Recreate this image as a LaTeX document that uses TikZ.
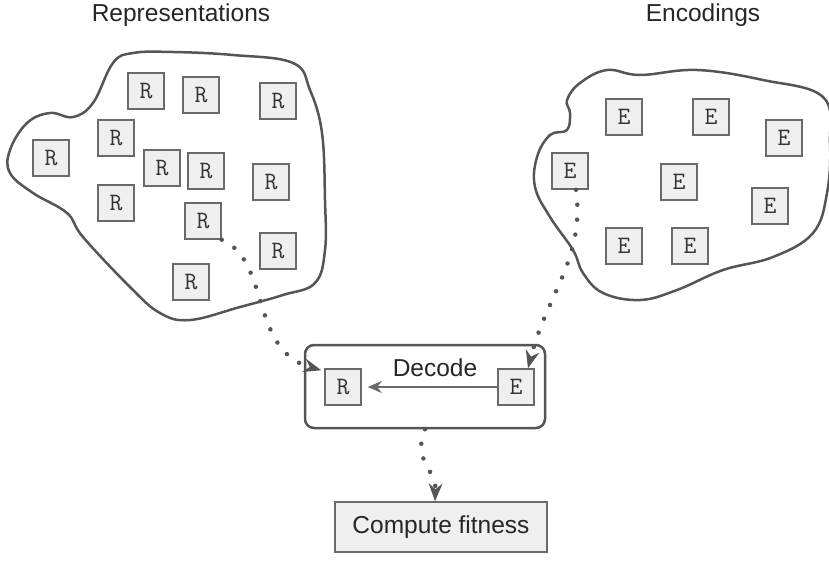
\documentclass[tikz,border=0pt]{standalone}
\usepackage{fontspec}
\setmainfont{Liberation Sans}
\usetikzlibrary{arrows.meta}
\definecolor{outl}{HTML}{555555}
\definecolor{boxfill}{HTML}{EFEFEF}
\definecolor{boxline}{HTML}{6A6A6A}
\tikzset{
  item/.style={draw=boxline, fill=boxfill, line width=1.5pt, minimum width=36pt, minimum height=36pt, inner sep=0pt, font=\ttfamily\fontsize{25}{28}\selectfont, text=black!80},
  blob/.style={draw=outl, line width=2.5pt},
  title/.style={font=\fontsize{24.5}{28}\selectfont, text=black!85},
  dots/.style={draw=outl, line width=4.5pt, line cap=round, dash pattern=on 0pt off 15pt, -{Stealth[length=18pt, width=14pt, inset=6pt, line width=0pt, fill=outl]}},
}
\begin{document}
\begin{tikzpicture}[x=1pt,y=-1pt]
\useasboundingbox (0,0) rectangle (829,565);
% titles
\node[title] (t1) at (181,15) {Representations};
\node[title] (t2) at (703,15) {Encodings};
% blobs
\draw[blob] plot[smooth cycle, tension=0.65] coordinates {
 (113,63) (133,53) (173,52) (233,55) (293,63) (310,90) (322,133) (325,200) (325,250) (315,283) (283,295) (240,307) (190,320) (160,313) (130,287) (83,237) (67,213) (33,193) (10,173) (10,150) (27,123) (50,113) (73,117) (93,103)};
\draw[blob] plot[smooth cycle, tension=0.65] coordinates {
 (567,130) (570,113) (567,100) (580,83) (607,70) (640,75) (697,70) (763,80) (823,97) (830,143) (827,193) (813,233) (773,257) (723,270) (677,290) (640,300) (603,293) (583,273) (573,250) (550,217) (535,187) (537,157) (550,135)};
% R boxes
\node[item] (r1) at (146,91) {R};
\node[item] (r2) at (201,95) {R};
\node[item] (r3) at (278,101) {R};
\node[item] (r4) at (116,138) {R};
\node[item] (r5) at (51,158) {R};
\node[item] (r6) at (162,168) {R};
\node[item] (r7) at (206,171) {R};
\node[item] (r8) at (271,182) {R};
\node[item] (r9) at (116,203) {R};
\node[item] (r10) at (203,221) {R};
\node[item] (r11) at (278,251) {R};
\node[item] (r12) at (191,282) {R};
% E boxes
\node[item] (e1) at (624,117) {E};
\node[item] (e2) at (711,117) {E};
\node[item] (e3) at (784,138) {E};
\node[item] (e4) at (570,171) {E};
\node[item] (e5) at (679,182) {E};
\node[item] (e6) at (770,206) {E};
\node[item] (e7) at (624,246) {E};
\node[item] (e8) at (690,246) {E};
% decode box
\node[draw=outl, line width=2.5pt, rounded corners=9pt, minimum width=240pt, minimum height=83pt, inner sep=0pt] (dec) at (425,386.5) {};
\node[item] (dr) at (343,387) {R};
\node[item] (de) at (516,387) {E};
\node[title, anchor=base] (dl) at (435,376) {Decode};
\draw[draw=boxline, line width=2.2pt, -{Stealth[length=14pt, width=12pt]}] (de.west) -- ([xshift=6pt]dr.east);
% compute fitness
\node[draw=boxline, fill=boxfill, line width=1.5pt, minimum width=212pt, minimum height=50pt, inner sep=0pt, title] (cf) at (441,527) {Compute fitness};
% dotted arrows
\draw[dots] (r10.south east) .. controls (270,260) and (250,350) .. ([shift={(-3pt,-2pt)}]dr.north west);
\draw[dots] ([xshift=6pt]e4.south) .. controls (585,258) and (548,292) .. ([xshift=12pt]de.north);
\draw[dots] (dec.south) .. controls (412,460) and (436,470) .. ([xshift=-6pt]cf.north);
\end{tikzpicture}
\end{document}
